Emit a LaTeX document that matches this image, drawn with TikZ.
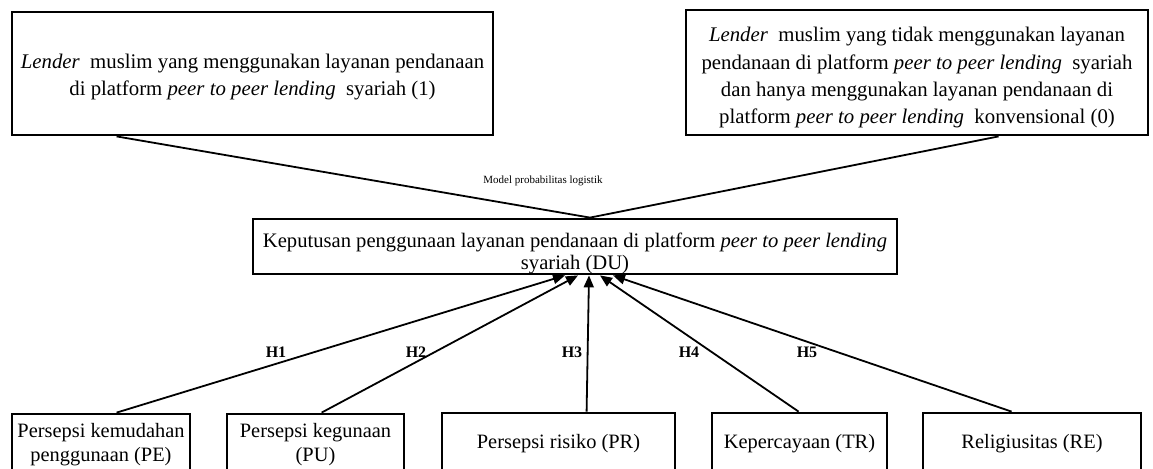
\documentclass[tikz,border=0pt]{standalone}
\usepackage{fontspec}
\setmainfont{Liberation Serif}
\usetikzlibrary{arrows.meta}
\begin{document}
\begin{tikzpicture}[x=0.5pt,y=-0.5pt,
  box/.style={draw, line width=1.4pt, rectangle, align=center, inner sep=0pt, font=\fontsize{10.4}{13.6}\selectfont},
  smallbox/.style={box, minimum height=31pt, font=\fontsize{10.2}{12}\selectfont},
  conn/.style={line width=0.9pt},
  arr/.style={line width=0.9pt, -{Triangle[length=6pt,width=5pt]}},
  hlab/.style={font=\fontsize{8}{9}\selectfont\bfseries, inner sep=0pt},
  mlab/.style={font=\fontsize{5.5}{6}\selectfont, inner sep=0pt}]
\useasboundingbox (0,0) rectangle (1153,468);
\clip (0,0) rectangle (1153,468);
\fill[white] (0,0) rectangle (1153,468);
\node[box, minimum width=240.5pt, minimum height=61.5pt] (tl) at (252.5,73.5)
  {\rule{0pt}{11pt}\textit{Lender}\ \ muslim yang menggunakan layanan pendanaan\\di platform \textit{peer to peer lending}\ \ syariah (1)};
\node[box, minimum width=231pt, minimum height=62.5pt] (tr) at (917,72.5)
  {\rule{0pt}{12.5pt}\textit{Lender}\ \ muslim yang tidak menggunakan layanan\\pendanaan di platform \textit{peer to peer lending}\ \ syariah\\dan hanya menggunakan layanan pendanaan di\\platform \textit{peer to peer lending}\ \ konvensional (0)};
\node[box, minimum width=322pt, minimum height=27.5pt, font=\fontsize{10.3}{10.8}\selectfont] (du) at (575,246.5)
  {\rule{0pt}{14pt}Keputusan penggunaan layanan pendanaan di platform \textit{peer to peer lending}\\syariah (DU)};
\node[smallbox, minimum width=89pt] (pe) at (101,445) {Persepsi kemudahan\\penggunaan (PE)};
\node[smallbox, minimum width=88.5pt] (pu) at (315.5,445) {Persepsi kegunaan\\(PU)};
\node[smallbox, minimum width=116.5pt] (pr) at (558.5,444) {Persepsi risiko (PR)};
\node[smallbox, minimum width=87.5pt] (trn) at (799.5,444) {Kepercayaan (TR)};
\node[smallbox, minimum width=109pt] (re) at (1032,444) {Religiusitas (RE)};
\coordinate (meet) at ([xshift=7.5pt]du.north);
\draw[conn] ([xshift=53pt]tl.south west) -- (meet);
\draw[conn] ([xshift=157pt]tr.south west) -- (meet);
\node[mlab] (ml) at (543,181) {Model probabilitas logistik};
\draw[arr] ([xshift=53pt]pe.north west) -- ([xshift=-5pt]du.south);
\draw[arr] ([xshift=48pt]pu.north west) -- ([xshift=1.5pt]du.south);
\draw[arr] ([xshift=73pt]pr.north west) -- ([xshift=7pt]du.south);
\draw[arr] ([xshift=44pt]trn.north west) -- ([xshift=12.5pt]du.south);
\draw[arr] ([xshift=45pt]re.north west) -- ([xshift=19pt]du.south);
\node[hlab] (h1) at (276,352) {H1};
\node[hlab] (h2) at (416,352) {H2};
\node[hlab] (h3) at (572,352) {H3};
\node[hlab] (h4) at (689,352) {H4};
\node[hlab] (h5) at (807,352) {H5};
\end{tikzpicture}
\end{document}
